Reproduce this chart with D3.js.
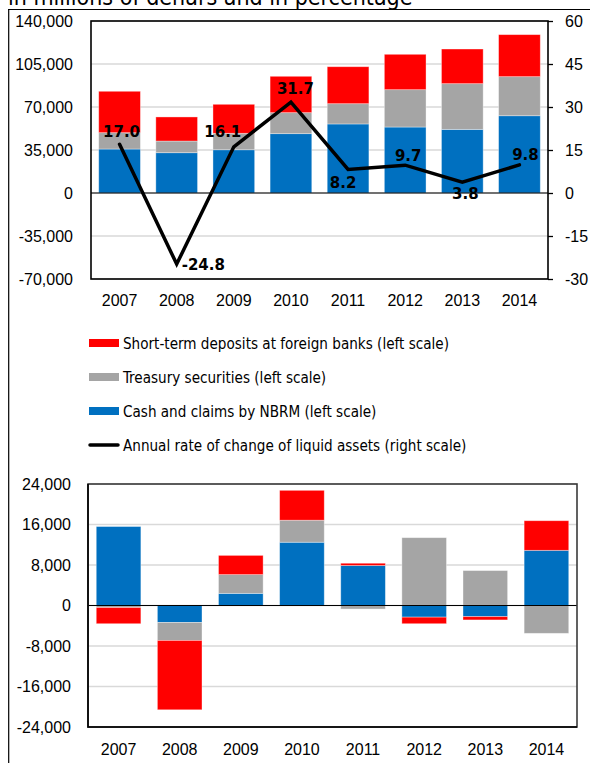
<!DOCTYPE html>
<html>
<head>
<meta charset="utf-8">
<script src="https://cdn.jsdelivr.net/npm/d3@7"></script>
<style>
  body { margin: 0; background: #fff; }
  svg { display: block; font-family: "DejaVu Sans Condensed", "DejaVu Sans", sans-serif; }
</style>
</head>
<body>
<svg id="chart"></svg>
<script>
// data
const years = ['2007', '2008', '2009', '2010', '2011', '2012', '2013', '2014'];

// top chart, stocks (millions of denars)
const cashNBRM = [35800, 32800, 35200, 48300, 56200, 53700, 51800, 62900];
const treasury = [13300, 9500, 13400, 17100, 16500, 30400, 37200, 31800];
const deposits = [33700, 19600, 23600, 29600, 30100, 28800, 28200, 34200];
const rateChange = [17.0, -24.8, 16.1, 31.7, 8.2, 9.7, 3.8, 9.8];

// bottom chart, annual changes
const cashChange = [15600, -3350, 2400, 12500, 7900, -2300, -2200, 10900];
const treasuryChange = [-400, -3550, 3700, 4350, -700, 13400, 6900, -5500];
const depositsChange = [-3200, -13700, 3800, 5900, 450, -1300, -650, 5850];

const leftTicksTop = [-70000, -35000, 0, 35000, 70000, 105000, 140000];
const rightTicksTop = [-30, -15, 0, 15, 30, 45, 60];
const ticksBottom = [-24000, -16000, -8000, 0, 8000, 16000, 24000];

const legendLabels = [
  'Short-term deposits at foreign banks (left scale)',
  'Treasury securities (left scale)',
  'Cash and claims by NBRM (left scale)',
  'Annual rate of change of liquid assets (right scale)'
];

const colors = { cash: '#0070C0', treasury: '#A5A5A5', deposits: '#FF0000' };
const keys = ['cash', 'treasury', 'deposits'];

// label placement for the line values (dx, dy, anchor)
const labelPos = [
  [2, -7, 'middle'], [5, 6, 'start'], [-11, -10, 'middle'], [4.5, -8, 'middle'],
  [-5, 18.5, 'middle'], [3, -4.5, 'middle'], [3, 17, 'middle'], [6, -4.5, 'middle']
];

const width = 590, height = 763;
// plain hyphen for negatives, like the original
const locale = d3.formatLocale({ decimal: '.', thousands: ',', grouping: [3], currency: ['', ''], minus: '-' });
const fmt = locale.format(',');
const fmtR = locale.format('d');

const svg = d3.select('#chart')
  .attr('width', width)
  .attr('height', height);

// page frame and cut-off title
svg.append('text')
  .attr('x', 8)
  .attr('y', 4.5)
  .attr('font-size', 23)
  .attr('fill', '#000')
  .text('in millions of denars and in percentage');

svg.append('line')
  .attr('x1', 8).attr('x2', width)
  .attr('y1', 9.5).attr('y2', 9.5)
  .attr('stroke', '#000').attr('stroke-width', 1.2);

svg.append('line')
  .attr('x1', 8.7).attr('x2', 8.7)
  .attr('y1', 9).attr('y2', height)
  .attr('stroke', '#000').attr('stroke-width', 1.2);

function stackRows(a, b, c) {
  return years.map((y, i) => ({ year: y, cash: a[i], treasury: b[i], deposits: c[i] }));
}

function drawBars(g, rows, x, y) {
  const series = d3.stack()
    .keys(keys)
    .offset(d3.stackOffsetDiverging)(rows);

  g.selectAll('g.series')
    .data(series)
    .join('g')
    .attr('class', 'series')
    .attr('fill', d => colors[d.key])
    .selectAll('rect')
    .data(d => d)
    .join('rect')
    .attr('x', d => x(d.data.year))
    .attr('width', x.bandwidth())
    .attr('y', d => y(Math.max(d[0], d[1])))
    .attr('height', d => Math.abs(y(d[0]) - y(d[1])))
    .attr('stroke', '#fff')
    .attr('stroke-opacity', 0.45)
    .attr('stroke-width', 0.8);
}

// ---------- top chart ----------
const topBox = { left: 91, right: 548, top: 21, bottom: 279 };

const x1 = d3.scaleBand()
  .domain(years)
  .range([topBox.left, topBox.right])
  .paddingInner(0.27)
  .paddingOuter(0.135);

const yL = d3.scaleLinear().domain([-70000, 140000]).range([topBox.bottom, topBox.top]);
const yR = d3.scaleLinear().domain([-30, 60]).range([topBox.bottom, topBox.top]);

const g1 = svg.append('g');

g1.append('g')
  .selectAll('line')
  .data(leftTicksTop)
  .join('line')
  .attr('x1', topBox.left).attr('x2', topBox.right)
  .attr('y1', d => yL(d)).attr('y2', d => yL(d))
  .attr('stroke', '#d9d9d9').attr('stroke-width', 1.3);

drawBars(g1, stackRows(cashNBRM, treasury, deposits), x1, yL);

g1.append('line')
  .attr('x1', topBox.left).attr('x2', topBox.right)
  .attr('y1', yL(0)).attr('y2', yL(0))
  .attr('stroke', '#000').attr('stroke-width', 1.2);

g1.append('rect')
  .attr('x', topBox.left).attr('y', topBox.top)
  .attr('width', topBox.right - topBox.left).attr('height', topBox.bottom - topBox.top)
  .attr('fill', 'none').attr('stroke', '#000').attr('stroke-width', 1.6);

// left axis labels
const axL = g1.append('g')
  .attr('transform', `translate(${topBox.left},0)`)
  .call(d3.axisLeft(yL).tickValues(leftTicksTop).tickFormat(fmt).tickSize(0).tickPadding(18));
axL.select('.domain').remove();
axL.selectAll('text').attr('font-size', 16).attr('font-family', null).attr('fill', '#000');

// right axis
const axR = g1.append('g')
  .attr('transform', `translate(${topBox.right},0)`)
  .call(d3.axisRight(yR).tickValues(rightTicksTop).tickFormat(fmtR).tickSize(5).tickPadding(12));
axR.select('.domain').remove();
axR.selectAll('line').attr('stroke', '#000').attr('stroke-width', 1.3);
axR.selectAll('text').attr('font-size', 16).attr('font-family', null).attr('fill', '#000');

// x axis labels
const axX1 = g1.append('g')
  .attr('transform', `translate(0,${topBox.bottom})`)
  .call(d3.axisBottom(x1).tickSize(0).tickPadding(16));
axX1.select('.domain').remove();
axX1.selectAll('text').attr('font-size', 16).attr('font-family', null).attr('fill', '#000');

// line of annual rate of change
const line = d3.line()
  .x((d, i) => x1(years[i]) + x1.bandwidth() / 2)
  .y(d => yR(d));

g1.append('path')
  .datum(rateChange)
  .attr('d', line)
  .attr('fill', 'none')
  .attr('stroke', '#000')
  .attr('stroke-width', 3.5)
  .attr('stroke-linejoin', 'miter')
  .attr('stroke-linecap', 'round');

g1.append('g')
  .selectAll('text')
  .data(rateChange)
  .join('text')
  .attr('x', (d, i) => x1(years[i]) + x1.bandwidth() / 2 + labelPos[i][0])
  .attr('y', (d, i) => yR(d) + labelPos[i][1])
  .attr('text-anchor', (d, i) => labelPos[i][2])
  .attr('font-family', 'DejaVu Sans')
  .attr('font-weight', 'bold')
  .attr('font-size', 15)
  .text(d => d.toFixed(1));

// ---------- legend ----------
const legend = svg.append('g');
const legendKeys = ['deposits', 'treasury', 'cash', 'line'];

legendKeys.forEach((k, i) => {
  const cy = 343 + i * 34;
  if (k === 'line') {
    legend.append('line')
      .attr('x1', 90).attr('x2', 118)
      .attr('y1', cy).attr('y2', cy)
      .attr('stroke', '#000').attr('stroke-width', 3.5)
      .attr('stroke-linecap', 'round');
  } else {
    legend.append('rect')
      .attr('x', 89).attr('y', cy - 4)
      .attr('width', 30).attr('height', 8)
      .attr('fill', colors[k]);
  }
  legend.append('text')
    .attr('x', 123)
    .attr('y', cy + 6)
    .attr('font-size', 15.1)
    .text(legendLabels[i]);
});

// ---------- bottom chart ----------
const bot = { left: 88, right: 577, top: 484, bottom: 727 };

const x2 = d3.scaleBand()
  .domain(years)
  .range([bot.left, bot.right])
  .paddingInner(0.27)
  .paddingOuter(0.135);

const y2 = d3.scaleLinear().domain([-24000, 24000]).range([bot.bottom, bot.top]);

const g2 = svg.append('g');

g2.append('g')
  .selectAll('line')
  .data(ticksBottom)
  .join('line')
  .attr('x1', bot.left).attr('x2', bot.right)
  .attr('y1', d => y2(d)).attr('y2', d => y2(d))
  .attr('stroke', '#d9d9d9').attr('stroke-width', 1.3);

drawBars(g2, stackRows(cashChange, treasuryChange, depositsChange), x2, y2);

g2.append('line')
  .attr('x1', bot.left).attr('x2', bot.right)
  .attr('y1', y2(0)).attr('y2', y2(0))
  .attr('stroke', '#000').attr('stroke-width', 1);

g2.append('rect')
  .attr('x', bot.left).attr('y', bot.top)
  .attr('width', bot.right - bot.left).attr('height', bot.bottom - bot.top)
  .attr('fill', 'none').attr('stroke', '#3a3a3a').attr('stroke-width', 1.6);

g2.append('path')
  .attr('d', `M${bot.left},${bot.top}V${bot.bottom}H${bot.right}`)
  .attr('fill', 'none').attr('stroke', '#000').attr('stroke-width', 1.6);

const ax2 = g2.append('g')
  .attr('transform', `translate(${bot.left},0)`)
  .call(d3.axisLeft(y2).tickValues(ticksBottom).tickFormat(fmt).tickSize(0).tickPadding(17));
ax2.select('.domain').remove();
ax2.selectAll('text').attr('font-size', 16).attr('font-family', null).attr('fill', '#000');

const axX2 = g2.append('g')
  .attr('transform', `translate(0,${bot.bottom})`)
  .call(d3.axisBottom(x2).tickSize(0).tickPadding(17));
axX2.select('.domain').remove();
axX2.selectAll('text').attr('font-size', 16).attr('font-family', null).attr('fill', '#000');
</script>
</body>
</html>
